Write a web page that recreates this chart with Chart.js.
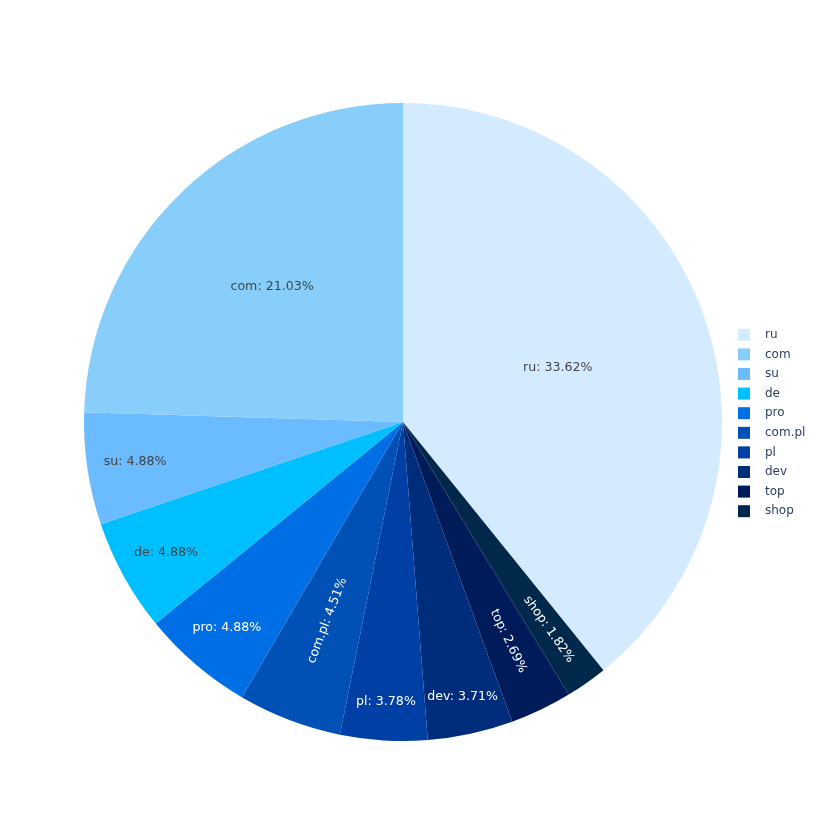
<!DOCTYPE html>
<html>
<head>
<meta charset="utf-8">
<script src="https://cdn.jsdelivr.net/npm/chart.js@4/dist/chart.umd.min.js"></script>
<style>
  html, body { margin: 0; padding: 0; background: #fff; }
  #wrap { width: 826px; height: 826px; }
</style>
</head>
<body>
<div id="wrap"><canvas id="grafico"></canvas></div>
<script>
// categories in legend order
const categorias = ['ru', 'com', 'su', 'de', 'pro', 'com.pl', 'pl', 'dev', 'top', 'shop'];
// percentages as printed on each slice
const percentuais = [33.62, 21.03, 4.88, 4.88, 4.88, 4.51, 3.78, 3.71, 2.69, 1.82];
const cores = ['#D4EAFE', '#87CEFA', '#6BBCFF', '#00BFFF', '#006FE6', '#0050B5',
               '#0040A4', '#002C7C', '#001B5A', '#00284B'];

// slices run counterclockwise in the reference: ru first, then the rest reversed
const ordemFatias = [0].concat(categorias.map((_, i) => i).slice(1).reverse());

const FONTE = '"DejaVu Sans", Verdana, sans-serif';
const TAM_ROTULO = 12.6;
const TAM_LEGENDA = 12;
const TEXTPAD = 3;

function corTexto(hex) {
    const r = parseInt(hex.substr(1, 2), 16);
    const g = parseInt(hex.substr(3, 2), 16);
    const b = parseInt(hex.substr(5, 2), 16);
    return (r * 299 + g * 587 + b * 114) / 1000 >= 128 ? '#444444' : '#ffffff';
}

function meioTamanhoMax(a, meioAng, r) {
    const q = a + 1 / (2 * Math.tan(meioAng));
    return r * Math.min(1 / (Math.sqrt(q * q + 0.5) + q), 1 / (Math.sqrt(a * a + 0.5) + a));
}

function girar(t) {
    return ((180 / Math.PI * t + 720) % 180 - 90) * Math.PI / 180;
}

// inside-text placement similar to plotly's auto orientation
function posicaoTexto(w, h, R, meioAng, angMeio) {
    const s = Math.sin(meioAng);
    const rIns = Math.min(1 / (1 + 1 / s), 0.5);
    const diam = Math.sqrt(w * w + h * h);
    const escH = rIns * R * 2 / diam;
    if (escH >= 1) return { scale: 1, rCenter: 1 - rIns, rotate: 0 };

    const r2 = Math.max(0, R - 2 * TEXTPAD);
    const aT = h / w;
    const sT = meioTamanhoMax(aT, meioAng, r2);
    const tan = { scale: sT * 2 / w, rCenter: Math.cos(sT / r2) - aT * sT / r2, rotate: girar(angMeio + Math.PI / 2) };
    const aR = w / h;
    const sR = meioTamanhoMax(aR, meioAng, r2);
    const rad = { scale: sR * 2 / h, rCenter: Math.cos(sR / r2) - aR * sR / r2, rotate: girar(angMeio) };

    let melhor = { scale: escH, rCenter: 1 - rIns, rotate: 0 };
    [tan, rad].forEach(t => { if (t.scale > melhor.scale) melhor = t; });
    melhor.scale = Math.min(1, melhor.scale);
    return melhor;
}

const rotulosFatias = {
    id: 'rotulosFatias',
    afterDatasetsDraw(chart) {
        const ctx = chart.ctx;
        const meta = chart.getDatasetMeta(0);
        const ds = chart.data.datasets[0];
        ctx.save();
        ctx.font = TAM_ROTULO + 'px ' + FONTE;
        ctx.textAlign = 'center';
        ctx.textBaseline = 'middle';
        meta.data.forEach((arc, i) => {
            const p = arc.getProps(['x', 'y', 'startAngle', 'endAngle', 'outerRadius'], true);
            const texto = chart.data.labels[i] + ': ' + ds.data[i].toFixed(2) + '%';
            const w = ctx.measureText(texto).width;
            const h = TAM_ROTULO * 1.2;
            const meioAng = (p.endAngle - p.startAngle) / 2;
            const angMeio = (p.startAngle + p.endAngle) / 2 + Math.PI / 2; // from 12 o'clock, clockwise
            const t = posicaoTexto(w, h, p.outerRadius, meioAng, angMeio);
            const x = p.x + Math.sin(angMeio) * p.outerRadius * t.rCenter;
            const y = p.y - Math.cos(angMeio) * p.outerRadius * t.rCenter;
            ctx.save();
            ctx.translate(x, y);
            ctx.rotate(t.rotate);
            ctx.scale(t.scale, t.scale);
            ctx.fillStyle = corTexto(ds.backgroundColor[i]);
            ctx.fillText(texto, 0, 0);
            ctx.restore();
        });
        ctx.restore();
    }
};

const legendaLateral = {
    id: 'legendaLateral',
    afterDraw(chart) {
        const ctx = chart.ctx;
        const area = chart.chartArea;
        const passo = 19.6;
        const x0 = area.right + 16;
        const yc = (area.top + area.bottom) / 2 + 1;
        const y0 = yc - passo * (categorias.length - 1) / 2;
        ctx.save();
        ctx.font = TAM_LEGENDA + 'px ' + FONTE;
        ctx.textAlign = 'left';
        ctx.textBaseline = 'middle';
        categorias.forEach((cat, i) => {
            const y = y0 + i * passo;
            ctx.fillStyle = cores[i];
            ctx.fillRect(x0, y - 6, 12, 12);
            ctx.fillStyle = '#2a3f5f';
            ctx.fillText(cat, x0 + 27, y);
        });
        ctx.restore();
    }
};

const ctx = document.getElementById('grafico').getContext('2d');
new Chart(ctx, {
    type: 'pie',
    data: {
        labels: ordemFatias.map(i => categorias[i]),
        datasets: [{
            data: ordemFatias.map(i => percentuais[i]),
            backgroundColor: ordemFatias.map(i => cores[i]),
            borderWidth: 0
        }]
    },
    options: {
        responsive: true,
        maintainAspectRatio: false,
        animation: false,
        layout: {
            padding: { left: 84, right: 104, top: 103, bottom: 85 }
        },
        plugins: {
            legend: { display: false },
            tooltip: { enabled: false }
        }
    },
    plugins: [rotulosFatias, legendaLateral]
});
</script>
</body>
</html>
